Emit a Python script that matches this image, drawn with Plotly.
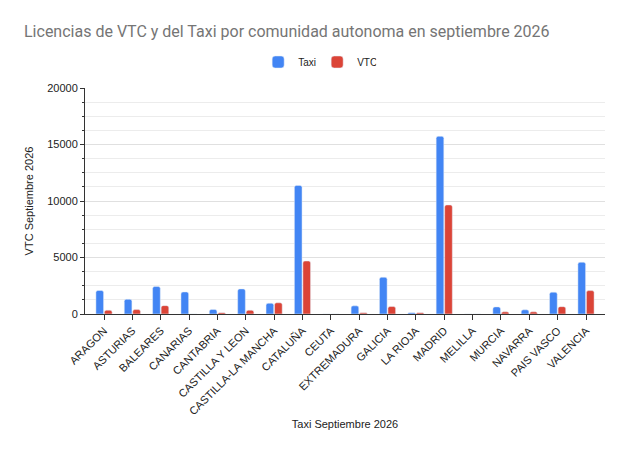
import plotly.graph_objects as go

comunidades = [
    "ARAGON", "ASTURIAS", "BALEARES", "CANARIAS", "CANTABRIA",
    "CASTILLA Y LEON", "CASTILLA-LA MANCHA", "CATALUÑA", "CEUTA",
    "EXTREMADURA", "GALICIA", "LA RIOJA", "MADRID", "MELILLA",
    "MURCIA", "NAVARRA", "PAIS VASCO", "VALENCIA",
]
taxi = [2080, 1300, 2430, 1950, 400, 2220, 950, 11380, 0,
        720, 3250, 100, 15720, 0, 630, 370, 1930, 4580]
vtc = [340, 390, 740, 0, 120, 330, 990, 4690, 0,
       100, 660, 110, 9650, 0, 190, 190, 650, 2070]

fig = go.Figure()
fig.add_trace(go.Bar(x=comunidades, y=taxi, name="Taxi",
                     marker=dict(color="#4285F4", cornerradius=2)))
fig.add_trace(go.Bar(x=comunidades, y=vtc, name="VTC",
                     marker=dict(color="#DB4437", cornerradius=2)))

# page has an 8px body margin, so the figure is a bit smaller than the window
fig.update_layout(
    width=620,
    height=442,
    margin=dict(l=77, r=23, t=80, b=136, autoexpand=False),
    paper_bgcolor="white",
    plot_bgcolor="white",
    font=dict(family="Arial, Liberation Sans", size=11, color="#222222"),
    title=dict(
        text="Licencias de VTC y del Taxi por comunidad autonoma en septiembre 2026",
        font=dict(family="Roboto, Arial", size=16, color="#757575"),
        x=16 / 620, xanchor="left", y=0.948, yanchor="middle",
    ),
    legend=dict(orientation="h", x=0.333, xanchor="left",
                y=1.115, yanchor="middle",
                font=dict(size=10, color="#222222"), itemwidth=30,
                entrywidth=14),
    barmode="group",
    bargap=0.4,
    bargroupgap=0.1,
)
fig.update_xaxes(
    title=dict(text="Taxi Septiembre 2026", font=dict(size=11), standoff=4),
    tickangle=-45,
    range=[-0.67, 17.67],
    showline=True, linecolor="#333333", linewidth=1,
    ticks="outside", ticklen=5, tickcolor="#333333",
    showgrid=False,
)
fig.update_yaxes(
    title=dict(text="VTC Septiembre 2026", font=dict(size=11), standoff=11),
    range=[0, 20000],
    tickvals=[0, 5000, 10000, 15000, 20000],
    tickformat="d",
    showline=True, linecolor="#333333", linewidth=1,
    ticks="outside", ticklen=4, tickcolor="#333333",
    gridcolor="#e0e0e0",
    zeroline=False,
    minor=dict(dtick=1250, showgrid=True, gridcolor="#ececec",
               ticks="outside", ticklen=2, tickcolor="#333333"),
)

fig.write_html("out.html")
